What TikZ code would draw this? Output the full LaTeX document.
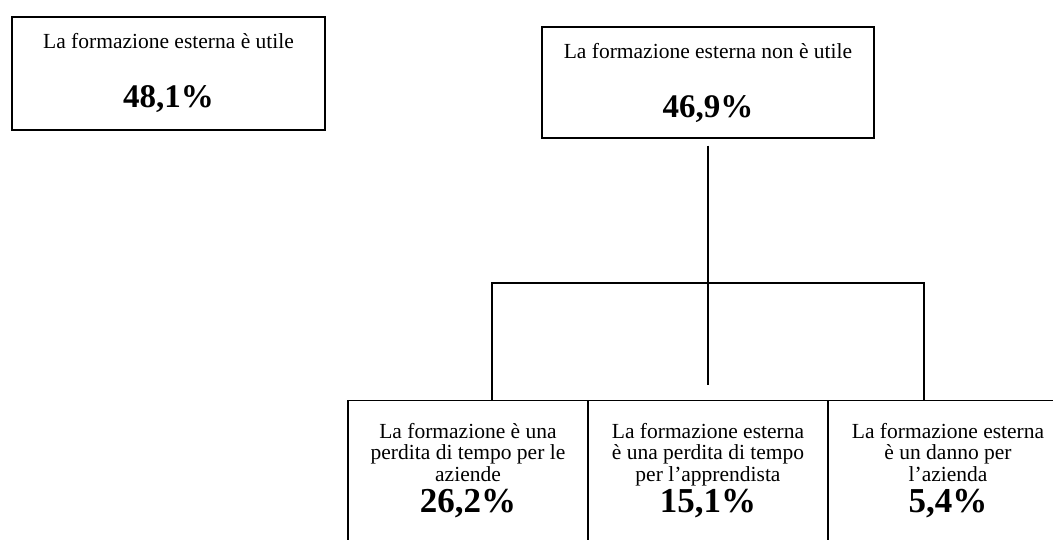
\documentclass[tikz,border=0pt]{standalone}
\usepackage{fontspec}
\setmainfont{Liberation Serif}
\usetikzlibrary{positioning}
\tikzstyle{frame} = [draw, line width=1.4pt, inner sep=0pt]
\tikzstyle{txt} = [font=\fontsize{21.5}{21.5}\selectfont, align=center, inner sep=0pt, anchor=base]
\tikzstyle{pct} = [font=\fontsize{33}{33}\selectfont\bfseries, inner sep=0pt, anchor=base]
\tikzstyle{bigpct} = [pct, font=\fontsize{35}{35}\selectfont\bfseries]
\tikzstyle{link} = [line width=2.2pt]

\begin{document}
\begin{tikzpicture}[x=1pt, y=-1pt]
  \useasboundingbox (0,0) rectangle (1053,539);
  \clip (0,0) rectangle (1053,539);

  % caselle in alto
  \node[frame, minimum width=313pt, minimum height=113pt] (utile) at (168.5,73.5) {};
  \node[frame, minimum width=332pt, minimum height=111pt] (nonutile) at (708,82.5) {};
  \node[txt] (tutile) at (168.5,48) {La formazione esterna è utile};
  \node[pct] (putile) at (168.5,107) {48,1\%};
  \node[txt] (tnonutile) at (708,58) {La formazione esterna non è utile};
  \node[pct] (pnonutile) at (708,117) {46,9\%};

  % caselle in basso
  \node[frame, minimum width=240pt, minimum height=170pt, anchor=north] (aziende) at (468,400) {};
  \node[frame, minimum width=240pt, minimum height=170pt, anchor=north] (apprendista) at (708,400) {};
  \node[frame, minimum width=240pt, minimum height=170pt, anchor=north] (danno) at (948,400) {};
  \node[txt] (taziende) at (468,481) {La formazione è una\\perdita di tempo per le\\aziende};
  \node[bigpct] (paziende) at (468,512) {26,2\%};
  \node[txt] (tapprendista) at (708,481) {La formazione esterna\\è una perdita di tempo\\per l’apprendista};
  \node[bigpct] (papprendista) at (708,512) {15,1\%};
  \node[txt] (tdanno) at (948,481) {La formazione esterna\\è un danno per\\l’azienda};
  \node[bigpct] (pdanno) at (948,512) {5,4\%};

  % collegamenti
  \coordinate (hub) at (708,283);
  \draw[link] ([yshift=-7pt]nonutile.south) -- ([yshift=15pt]apprendista.north);
  \draw[link] ([xshift=24pt]aziende.north) -- ([xshift=24pt]aziende.north |- hub)
    -- ([xshift=-24pt]danno.north |- hub) -- ([xshift=-24pt]danno.north);
\end{tikzpicture}
\end{document}
